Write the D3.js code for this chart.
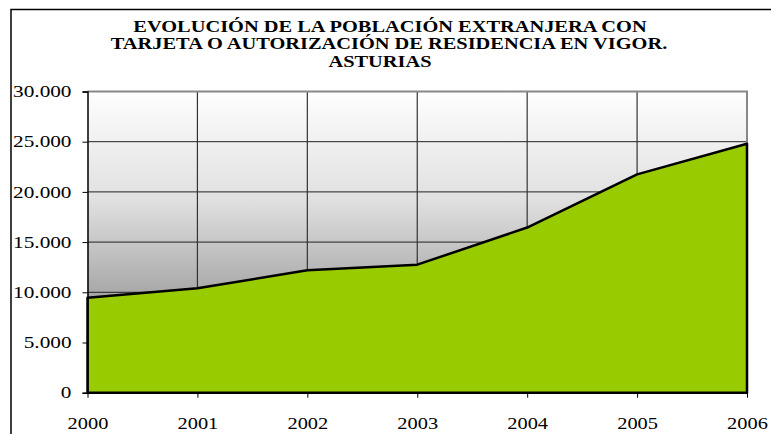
<!DOCTYPE html>
<html>
<head>
<meta charset="utf-8">
<script src="https://cdn.jsdelivr.net/npm/d3@7"></script>
<style>
  body { margin: 0; background: #fff; }
  text { font-family: "Liberation Serif", "Times New Roman", serif; fill: #000; }
</style>
</head>
<body>
<script>
// data
let years = [2000, 2001, 2002, 2003, 2004, 2005, 2006];
let residents = [9450, 10400, 12200, 12750, 16450, 21750, 24800];
let yTicks = [0, 5000, 10000, 15000, 20000, 25000, 30000];
let titleLines = [
  "EVOLUCIÓN DE LA POBLACIÓN EXTRANJERA CON",
  "TARJETA O AUTORIZACIÓN DE RESIDENCIA EN VIGOR.",
  "ASTURIAS"
];

let width = 771;
let height = 434;
let svg = d3.select("body").append("svg")
                           .attr("width", width)
                           .attr("height", height);

let plotLeft = 87.5, plotRight = 747, plotTop = 91.5, plotBottom = 392.7;

let x = d3.scaleLinear().domain([2000, 2006]).range([plotLeft, plotRight]);
let y = d3.scaleLinear().domain([0, 30000]).range([plotBottom, plotTop]);

let data = years.map((yr, i) => ({ year: yr, value: residents[i] }));

// outer frame (only top and left edges are visible)
svg.append("path")
   .attr("d", `M11,${height} L11,9.5 L${width},9.5`)
   .attr("fill", "none")
   .attr("stroke", "#000")
   .attr("stroke-width", 1.5);

// plot background gradient
let defs = svg.append("defs");
let grad = defs.append("linearGradient")
               .attr("id", "bg")
               .attr("x1", 0).attr("y1", 0)
               .attr("x2", 0).attr("y2", 1);
[[0, "#fefefe"], [0.36, "#e0e0e0"], [0.66, "#aaaaaa"], [1, "#7e7e7e"]].forEach(s => {
  grad.append("stop").attr("offset", s[0]).attr("stop-color", s[1]);
});

svg.append("rect")
   .attr("x", plotLeft).attr("y", plotTop)
   .attr("width", plotRight - plotLeft).attr("height", plotBottom - plotTop)
   .attr("fill", "url(#bg)");

// gridlines
svg.append("g")
   .selectAll("line").data(yTicks.filter(t => t > 0 && t < 30000)).enter()
   .append("line")
   .attr("x1", plotLeft).attr("x2", plotRight)
   .attr("y1", d => y(d)).attr("y2", d => y(d))
   .attr("stroke", "#222").attr("stroke-width", 1);

svg.append("g")
   .selectAll("line").data(years.slice(1, -1)).enter()
   .append("line")
   .attr("x1", d => x(d)).attr("x2", d => x(d))
   .attr("y1", plotTop).attr("y2", plotBottom)
   .attr("stroke", "#333").attr("stroke-width", 1.2);

// plot area border (top and right, grey)
svg.append("path")
   .attr("d", `M${plotLeft},${plotTop} L${plotRight},${plotTop} L${plotRight},${plotBottom}`)
   .attr("fill", "none")
   .attr("stroke", "#888")
   .attr("stroke-width", 2);

// area
let area = d3.area()
             .x(d => x(d.year))
             .y0(y(0))
             .y1(d => y(d.value));

svg.append("path").datum(data)
   .attr("d", d => area(d))
   .attr("fill", "#99cc00")
   .attr("stroke", "#000")
   .attr("stroke-width", 2.5)
   .attr("stroke-linejoin", "round");

// y axis
let yAxis = d3.axisLeft(y)
              .tickValues(yTicks)
              .tickSize(5)
              .tickPadding(10)
              .tickFormat(d => d3.format(",")(d).replace(/,/g, "."));
let gy = svg.append("g")
            .attr("transform", `translate(${plotLeft},0)`)
            .call(yAxis);
gy.select(".domain").attr("stroke", "#000").attr("stroke-width", 1.5);
gy.selectAll(".tick line").attr("stroke", "#000");
gy.selectAll(".tick text")
  .attr("font-size", 17)
  .attr("x", 0)
  .attr("dy", "0.3em")
  .attr("transform", "translate(-16,0) scale(1.25,1)");

// x axis
let xAxis = d3.axisBottom(x)
              .tickValues(years)
              .tickSize(5)
              .tickPadding(20)
              .tickFormat(d3.format("d"));
let gx = svg.append("g")
            .attr("transform", `translate(0,${plotBottom})`)
            .call(xAxis);
gx.select(".domain").attr("stroke", "none");
gx.selectAll(".tick line").attr("stroke", "#000");
gx.selectAll(".tick text")
  .attr("font-size", 17)
  .attr("dy", 0)
  .attr("y", 0)
  .attr("transform", "translate(0,36) scale(1.2,1)");

// title
let titleX = [390, 389, 380];
let titleY = [31.5, 48.5, 67.3];
svg.append("g").selectAll("text").data(titleLines).enter()
   .append("text")
   .attr("transform", (d, i) => `translate(${titleX[i]},${titleY[i]}) scale(1.2,1)`)
   .attr("text-anchor", "middle")
   .attr("font-size", 17)
   .attr("font-weight", "bold")
   .text(d => d);
</script>
</body>
</html>
